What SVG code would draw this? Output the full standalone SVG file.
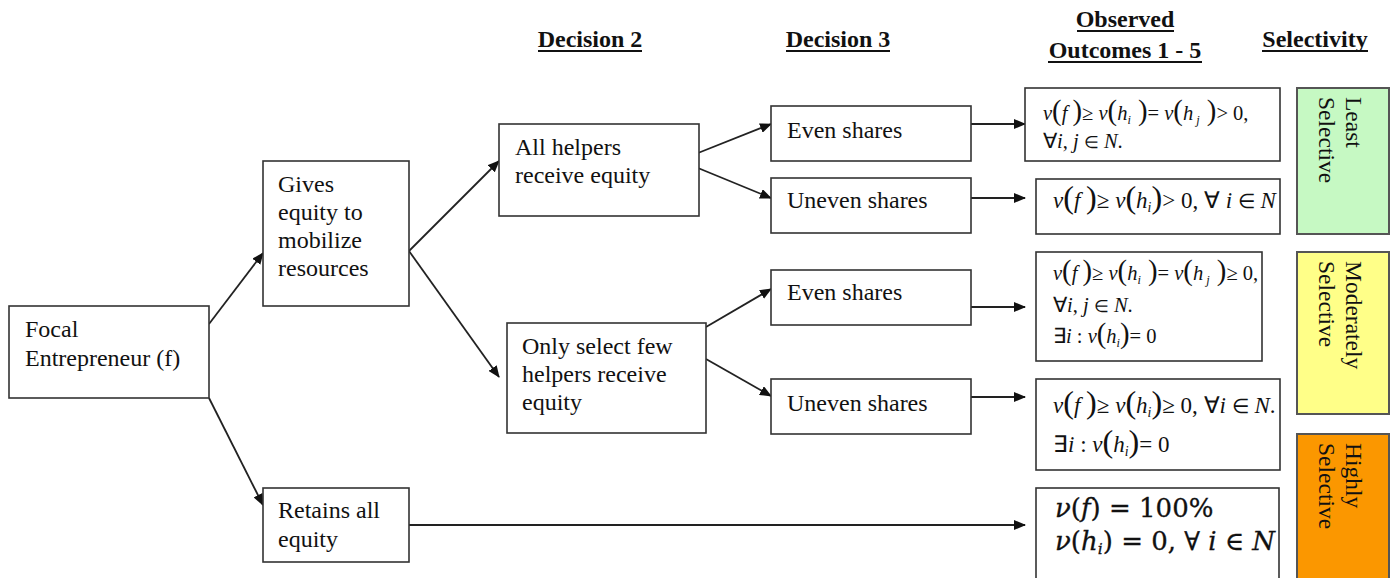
<svg xmlns="http://www.w3.org/2000/svg" width="1396" height="578" viewBox="0 0 1396 578">
  <style>
    .box { fill: #ffffff; stroke: #333333; stroke-width: 1.6; }
    .lbl { font-family: "Liberation Serif", "Times New Roman", serif; font-size: 24px; fill: #111111; }
    .hdr { font-family: "Liberation Serif", "Times New Roman", serif; font-size: 24px; font-weight: bold; fill: #111111; text-anchor: middle; }
    .ul { stroke: #111111; stroke-width: 2; }
    .edge { stroke: #222222; stroke-width: 1.8; fill: none; marker-end: url(#arrow); }
    .m { font-family: "Liberation Serif", "Times New Roman", serif; font-size: 20.5px; fill: #111111; }
    .m2 { font-family: "Liberation Serif", "Times New Roman", serif; font-size: 23px; fill: #111111; }
    .mb { font-family: "DejaVu Serif", serif; font-size: 26px; fill: #111111; stroke: #111111; stroke-width: 0.3; }
    .i { font-style: italic; }
    .p { font-size: 1.4em; }
    .s { font-size: 0.6em; }
    .e { font-size: 0.85em; }
    .sel { stroke: #555555; stroke-width: 2; }
    .rot { font-family: "Liberation Serif", "Times New Roman", serif; font-size: 23.5px; fill: #111111; }
  </style>
  <defs>
    <marker id="arrow" markerUnits="userSpaceOnUse" markerWidth="12" markerHeight="10" refX="11" refY="5" orient="auto">
      <path d="M0,0 L12,5 L0,10 Z" fill="#111111"/>
    </marker>
  </defs>

  <!-- column headings -->
  <g id="headings">
    <text class="hdr" x="590" y="47">Decision 2</text>
    <line class="ul" x1="538" y1="51" x2="642" y2="51"/>
    <text class="hdr" x="838" y="47">Decision 3</text>
    <line class="ul" x1="786" y1="51" x2="890" y2="51"/>
    <text class="hdr" x="1125" y="27">Observed</text>
    <line class="ul" x1="1077" y1="31" x2="1174" y2="31"/>
    <text class="hdr" x="1125" y="58">Outcomes 1 - 5</text>
    <line class="ul" x1="1048" y1="62" x2="1202" y2="62"/>
    <text class="hdr" x="1315" y="47">Selectivity</text>
    <line class="ul" x1="1262" y1="51" x2="1368" y2="51"/>
  </g>

  <!-- connectors -->
  <g id="connectors">
    <line class="edge" x1="209" y1="324" x2="263" y2="253"/>
    <line class="edge" x1="209" y1="398" x2="263" y2="505"/>
    <line class="edge" x1="409" y1="251" x2="499" y2="161"/>
    <line class="edge" x1="409" y1="251" x2="499" y2="377"/>
    <line class="edge" x1="698" y1="153" x2="771" y2="124"/>
    <line class="edge" x1="698" y1="168" x2="771" y2="198"/>
    <line class="edge" x1="706" y1="327" x2="771" y2="289"/>
    <line class="edge" x1="706" y1="359" x2="771" y2="396"/>
    <line class="edge" x1="971" y1="124" x2="1025" y2="124"/>
    <line class="edge" x1="971" y1="198" x2="1025" y2="198"/>
    <line class="edge" x1="971" y1="307" x2="1025" y2="307"/>
    <line class="edge" x1="971" y1="397" x2="1025" y2="397"/>
    <line class="edge" x1="409" y1="525" x2="1025" y2="525"/>
  </g>

  <!-- decision 1 -->
  <g id="focal">
    <rect class="box" x="9" y="306" width="200" height="92"/>
    <text class="lbl" x="25" y="337">Focal</text>
    <text class="lbl" x="25" y="366">Entrepreneur (f)</text>
  </g>
  <g id="gives">
    <rect class="box" x="263" y="161" width="146" height="145"/>
    <text class="lbl" x="278" y="192">Gives</text>
    <text class="lbl" x="278" y="220">equity to</text>
    <text class="lbl" x="278" y="248">mobilize</text>
    <text class="lbl" x="278" y="276">resources</text>
  </g>
  <g id="retains">
    <rect class="box" x="263" y="488" width="146" height="74"/>
    <text class="lbl" x="278" y="518">Retains all</text>
    <text class="lbl" x="278" y="547">equity</text>
  </g>

  <!-- decision 2 -->
  <g id="all-helpers">
    <rect class="box" x="499" y="124" width="200" height="92"/>
    <text class="lbl" x="515" y="155">All helpers</text>
    <text class="lbl" x="515" y="183">receive equity</text>
  </g>
  <g id="only-select">
    <rect class="box" x="507" y="323" width="199" height="110"/>
    <text class="lbl" x="522" y="354">Only select few</text>
    <text class="lbl" x="522" y="382">helpers receive</text>
    <text class="lbl" x="522" y="410">equity</text>
  </g>

  <!-- decision 3 -->
  <g id="even-1">
    <rect class="box" x="771" y="106" width="200" height="55"/>
    <text class="lbl" x="787" y="138">Even shares</text>
  </g>
  <g id="uneven-1">
    <rect class="box" x="771" y="178" width="200" height="55"/>
    <text class="lbl" x="787" y="208">Uneven shares</text>
  </g>
  <g id="even-2">
    <rect class="box" x="771" y="270" width="200" height="55"/>
    <text class="lbl" x="787" y="300">Even shares</text>
  </g>
  <g id="uneven-2">
    <rect class="box" x="771" y="379" width="200" height="55"/>
    <text class="lbl" x="787" y="411">Uneven shares</text>
  </g>

  <!-- outcomes -->
  <g id="outcome-1">
    <rect class="box" x="1025" y="88" width="255" height="73"/>
    <text class="m" x="1043" y="120"><tspan class="i">ν</tspan><tspan class="p">(</tspan><tspan class="i">f</tspan> <tspan class="p">)</tspan>≥ <tspan class="i">ν</tspan><tspan class="p">(</tspan><tspan class="i">h</tspan><tspan class="i s" dy="4">i</tspan><tspan class="p" dy="-4"> )</tspan>= <tspan class="i">ν</tspan><tspan class="p">(</tspan><tspan class="i">h</tspan><tspan class="i s" dy="4"> j</tspan><tspan class="p" dy="-4"> )</tspan>&gt; 0,</text>
    <text class="m" x="1043" y="148">∀<tspan class="i">i</tspan>, <tspan class="i">j</tspan> <tspan class="e">∈</tspan> <tspan class="i">N</tspan>.</text>
  </g>
  <g id="outcome-2">
    <rect class="box" x="1036" y="179" width="244" height="55"/>
    <text class="m2" x="1053" y="208"><tspan class="i">ν</tspan><tspan class="p">(</tspan><tspan class="i">f</tspan> <tspan class="p">)</tspan>≥ <tspan class="i">ν</tspan><tspan class="p">(</tspan><tspan class="i">h</tspan><tspan class="i s" dy="4">i</tspan><tspan class="p" dy="-4">)</tspan>&gt; 0, ∀ <tspan class="i">i</tspan> <tspan class="e">∈</tspan> <tspan class="i">N</tspan></text>
  </g>
  <g id="outcome-3">
    <rect class="box" x="1036" y="252" width="226" height="109"/>
    <text class="m" x="1053" y="280"><tspan class="i">ν</tspan><tspan class="p">(</tspan><tspan class="i">f</tspan> <tspan class="p">)</tspan>≥ <tspan class="i">ν</tspan><tspan class="p">(</tspan><tspan class="i">h</tspan><tspan class="i s" dy="4">i</tspan><tspan class="p" dy="-4"> )</tspan>= <tspan class="i">ν</tspan><tspan class="p">(</tspan><tspan class="i">h</tspan><tspan class="i s" dy="4"> j</tspan><tspan class="p" dy="-4"> )</tspan>≥ 0,</text>
    <text class="m" x="1053" y="312">∀<tspan class="i">i</tspan>, <tspan class="i">j</tspan> <tspan class="e">∈</tspan> <tspan class="i">N</tspan>.</text>
    <text class="m" x="1053" y="343">∃<tspan class="i">i</tspan> : <tspan class="i">ν</tspan><tspan class="p">(</tspan><tspan class="i">h</tspan><tspan class="i s" dy="4">i</tspan><tspan class="p" dy="-4">)</tspan>= 0</text>
  </g>
  <g id="outcome-4">
    <rect class="box" x="1036" y="379" width="244" height="91"/>
    <text class="m2" x="1053" y="413"><tspan class="i">ν</tspan><tspan class="p">(</tspan><tspan class="i">f</tspan> <tspan class="p">)</tspan>≥ <tspan class="i">ν</tspan><tspan class="p">(</tspan><tspan class="i">h</tspan><tspan class="i s" dy="4">i</tspan><tspan class="p" dy="-4">)</tspan>≥ 0,  ∀<tspan class="i">i</tspan> <tspan class="e">∈</tspan> <tspan class="i">N</tspan>.</text>
    <text class="m2" x="1053" y="452">∃<tspan class="i">i</tspan> : <tspan class="i">ν</tspan><tspan class="p">(</tspan><tspan class="i">h</tspan><tspan class="i s" dy="4">i</tspan><tspan class="p" dy="-4">)</tspan>= 0</text>
  </g>
  <g id="outcome-5">
    <rect class="box" x="1036" y="488" width="243" height="100"/>
    <text class="mb" x="1055" y="517"><tspan class="i">ν</tspan>(<tspan class="i">f</tspan>) = 100%</text>
    <text class="mb" x="1055" y="550"><tspan class="i">ν</tspan>(<tspan class="i">h</tspan><tspan class="i s" dy="4">i</tspan><tspan dy="-4">)</tspan> = 0, ∀ <tspan class="i">i</tspan> ∈ <tspan class="i">N</tspan></text>
  </g>

  <!-- selectivity bands -->
  <g id="least-selective">
    <rect class="sel" x="1297" y="88" width="92" height="146" fill="#c6f9c3"/>
    <text class="rot" transform="translate(1346 97) rotate(90)">Least</text>
    <text class="rot" transform="translate(1319 97) rotate(90)">Selective</text>
  </g>
  <g id="moderately-selective">
    <rect class="sel" x="1297" y="252" width="92" height="162" fill="#ffff88"/>
    <text class="rot" transform="translate(1346 261) rotate(90)">Moderately</text>
    <text class="rot" transform="translate(1319 261) rotate(90)">Selective</text>
  </g>
  <g id="highly-selective">
    <rect class="sel" x="1297" y="434" width="92" height="150" fill="#fb9700"/>
    <text class="rot" transform="translate(1346 443) rotate(90)">Highly</text>
    <text class="rot" transform="translate(1319 443) rotate(90)">Selective</text>
  </g>
</svg>
